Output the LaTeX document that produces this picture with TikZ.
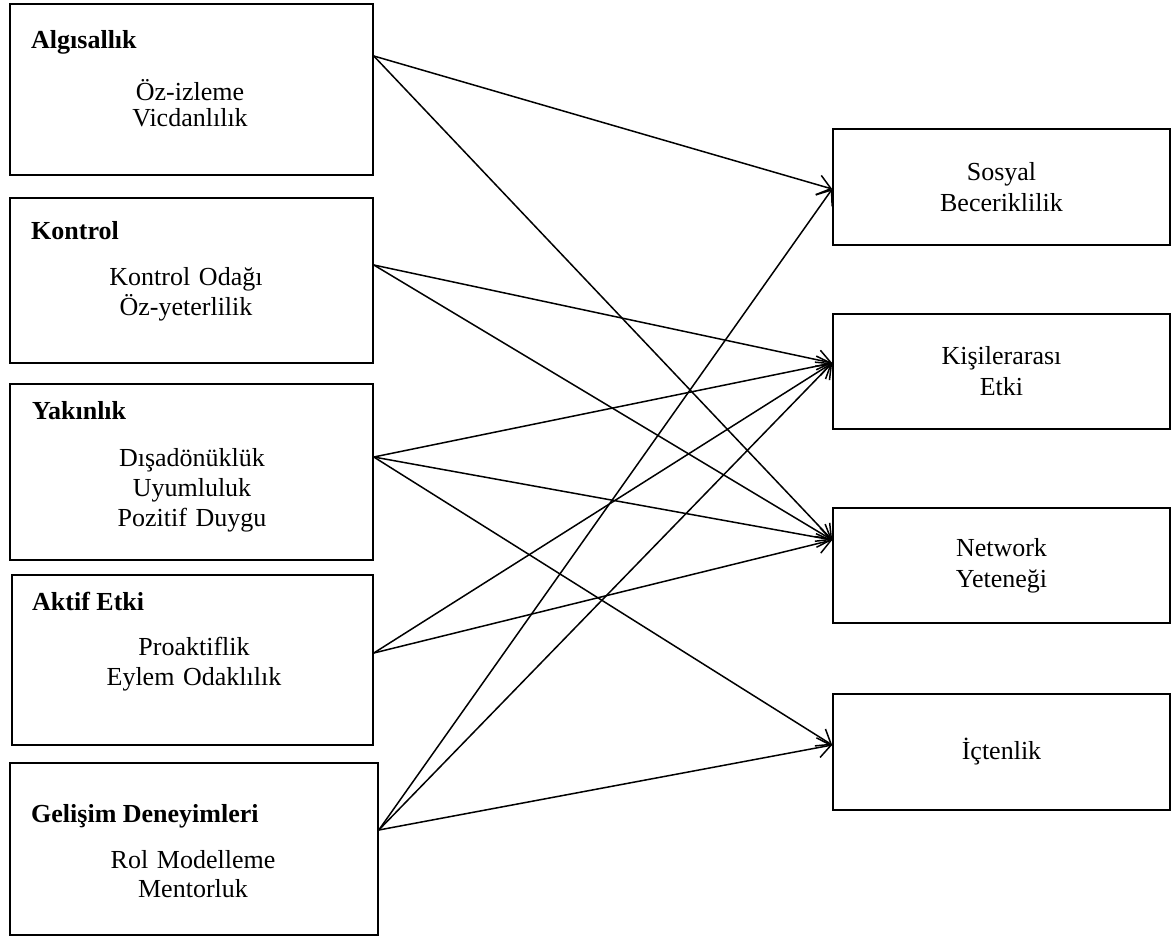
\documentclass[tikz,border=0pt]{standalone}
\usepackage{fontspec}
\setmainfont{Liberation Serif}
\usetikzlibrary{arrows.meta}
\begin{document}
\begin{tikzpicture}[x=1pt,y=-1pt,
        kutu/.style={draw,line width=1.6pt,inner sep=0pt},
        sagkutu/.style={kutu,minimum width=337pt,align=center,font=\fontsize{26}{31}\selectfont},
        baslik/.style={anchor=base west,inner sep=0pt,font=\fontsize{26}{30}\selectfont\bfseries},
        madde/.style={anchor=base,inner sep=0pt,text width=340pt,align=center},
        ok/.style={line width=1.5pt,-{Straight Barb[length=13pt,width=20pt,line width=1.5pt]}}]
        \useasboundingbox (0,0) rectangle (1171,938);
        % sol kutular
        \node[kutu,minimum width=363pt,minimum height=171pt] (alg) at (191.5,89.5) {};
        \node[kutu,minimum width=363pt,minimum height=165pt] (kon) at (191.5,280.5) {};
        \node[kutu,minimum width=363pt,minimum height=176pt] (yak) at (191.5,472) {};
        \node[kutu,minimum width=361pt,minimum height=170pt] (akt) at (192.5,660) {};
        \node[kutu,minimum width=368pt,minimum height=172pt] (gel) at (194,849) {};
        \node[baslik] (alg-b) at (31,48) {Algısallık};
        \node[baslik] (kon-b) at (31,239) {Kontrol};
        \node[baslik] (yak-b) at (32,419) {Yakınlık};
        \node[baslik] (akt-b) at (32,610) {Aktif Etki};
        \node[baslik] (gel-b) at (31,822) {Gelişim Deneyimleri};
        \node[madde,font=\fontsize{26}{26}\selectfont] (alg-m) at (190,100) {Öz-izleme\\Vicdanlılık};
        \node[madde,font=\fontsize{26}{30}\selectfont] (kon-m) at (186,285) {Kontrol Odağı\\Öz-yeterlilik};
        \node[madde,font=\fontsize{26}{30}\selectfont] (yak-m) at (192,466) {Dışadönüklük\\Uyumluluk\\Pozitif Duygu};
        \node[madde,font=\fontsize{26}{30}\selectfont] (akt-m) at (194,655) {Proaktiflik\\Eylem Odaklılık};
        \node[madde,font=\fontsize{26}{29}\selectfont] (gel-m) at (193,868) {Rol Modelleme\\Mentorluk};
        % sag kutular
        \node[sagkutu,minimum height=116pt] (sos) at (1001.5,187) {Sosyal\\Beceriklilik};
        \node[sagkutu,minimum height=115pt] (kis) at (1001.5,371.5) {Kişilerarası\\Etki};
        \node[sagkutu,minimum height=115pt] (net) at (1001.5,565.5) {Network\\Yeteneği};
        \node[sagkutu,minimum height=116pt] (ict) at (1001.5,752) {İçtenlik};
        % ok uclari
        \coordinate (alg-o) at ([yshift=33.5pt]alg.east);
        \coordinate (kon-o) at ([yshift=15.5pt]kon.east);
        \coordinate (yak-o) at ([yshift=15pt]yak.east);
        \coordinate (akt-o) at ([yshift=7pt]akt.east);
        \coordinate (gel-o) at ([yshift=19pt]gel.east);
        \coordinate (sos-i) at ([yshift=-2pt]sos.west);
        \coordinate (kis-i) at ([yshift=8.5pt]kis.west);
        \coordinate (net-i) at ([yshift=25.5pt]net.west);
        \coordinate (ict-i) at ([yshift=7pt]ict.west);
        % oklar
        \draw[ok] (alg-o) -- (sos-i);
        \draw[ok] (alg-o) -- (net-i);
        \draw[ok] (kon-o) -- (kis-i);
        \draw[ok] (kon-o) -- (net-i);
        \draw[ok] (yak-o) -- (kis-i);
        \draw[ok] (yak-o) -- (net-i);
        \draw[ok] (yak-o) -- (ict-i);
        \draw[ok] (akt-o) -- (kis-i);
        \draw[ok] (akt-o) -- (net-i);
        \draw[ok] (gel-o) -- (sos-i);
        \draw[ok] (gel-o) -- (kis-i);
        \draw[ok] (gel-o) -- (ict-i);
\end{tikzpicture}
\end{document}
